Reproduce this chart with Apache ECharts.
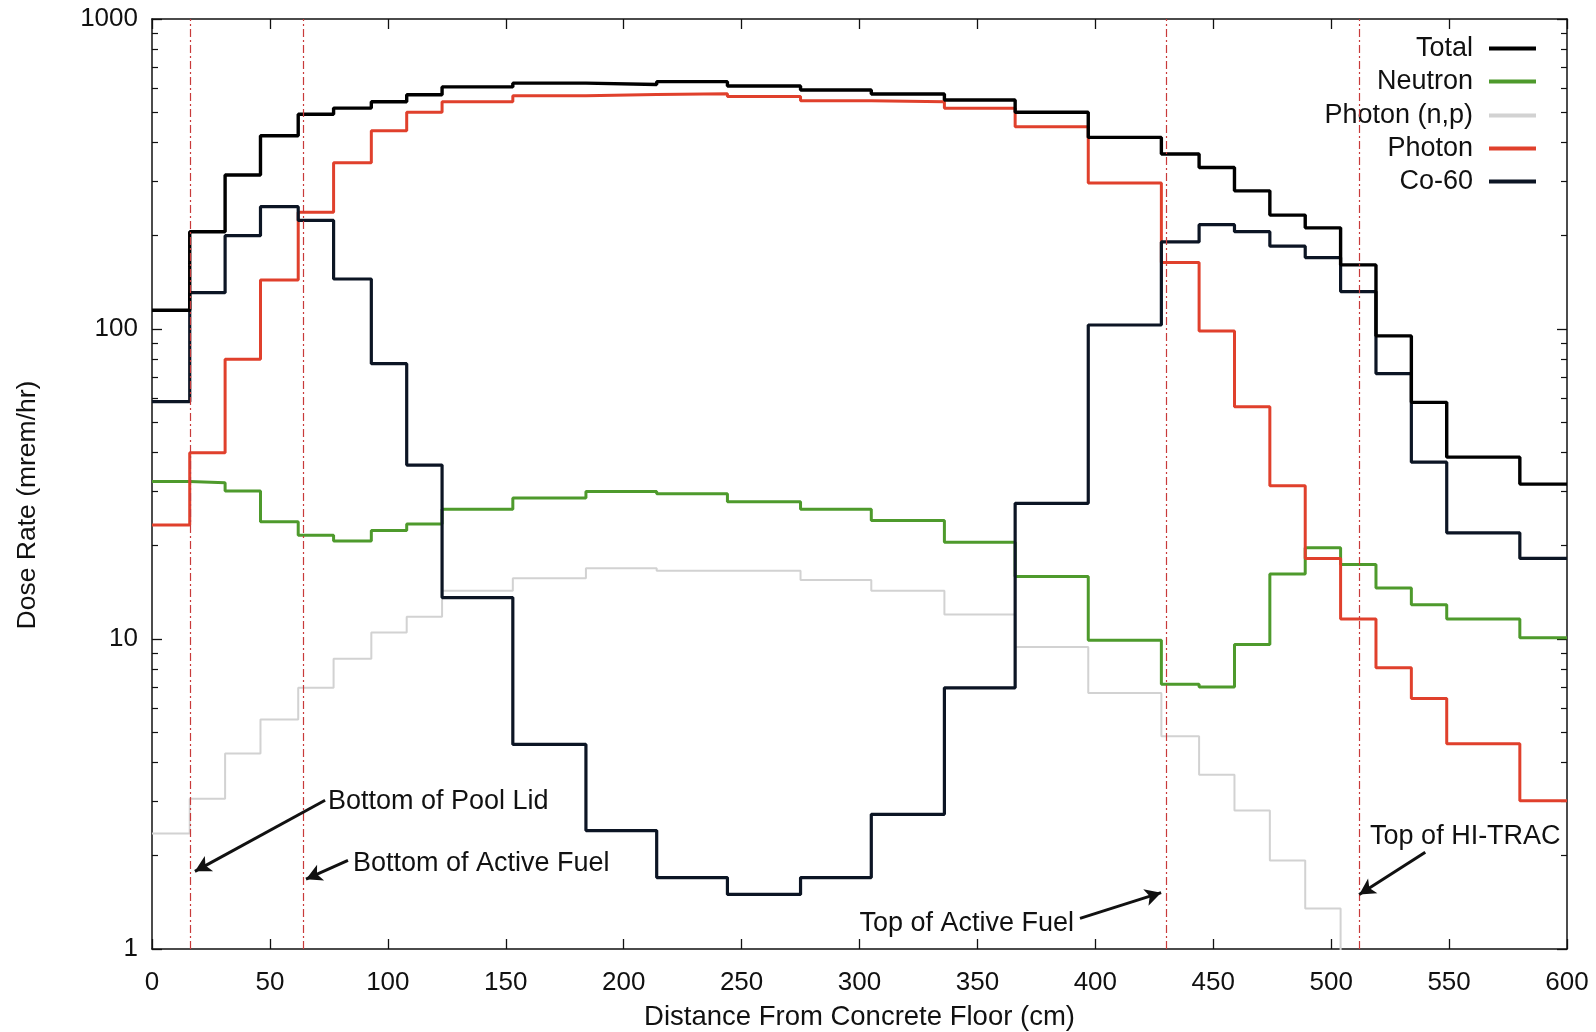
<!DOCTYPE html>
<html>
<head>
    <meta charset="utf-8">
    <title>Dose Rate vs Distance</title>
    <script type="text/javascript" src="https://cdn.jsdelivr.net/npm/echarts@6/dist/echarts.min.js"></script>
    <style>
        html, body { margin: 0; padding: 0; background: #fff; }
    </style>
</head>
<body>
<div id="main" style="width: 1596px;height:1032px;"></div>
<script type="text/javascript">
    // bin edges (cm) shared by every tally, values are per bin (mrem/hr)
    var edges = [0, 16, 31, 46, 62, 77, 93, 108, 123, 153, 184, 214, 244, 275, 305,
        336, 366, 397, 428, 444, 459, 474, 489, 504, 519, 534, 549, 580, 600];

    var total = [115, 206, 314, 420, 493, 516, 541, 570, 604, 621, 615, 628, 608, 590,
        573, 548, 500, 415, 367, 332, 279, 233, 212, 161, 95, 58, 38.6, 31.6];
    var neutron = [32.2, 31.9, 30.0, 23.9, 21.6, 20.7, 22.4, 23.5, 26.2, 28.5, 29.9, 29.4, 27.7, 26.2,
        24.1, 20.5, 15.9, 9.9, 7.14, 7.0, 9.6, 16.2, 19.7, 17.4, 14.6, 12.9, 11.6, 10.1];
    var photonNP = [2.36, 3.05, 4.27, 5.5, 6.96, 8.64, 10.5, 11.8, 14.3, 15.7, 16.9, 16.6, 16.6, 15.5,
        14.3, 12.0, 9.42, 6.7, 4.86, 3.65, 2.8, 1.93, 1.35, 0.8];
    var photon = [23.3, 39.9, 79.9, 144, 238, 344, 436, 500, 541, 565, 571, 574, 562, 545,
        541, 515, 449, 296, 164, 98.6, 56.1, 31.2, 18.2, 11.6, 8.07, 6.43, 4.59, 3.01];
    var co60 = [58.3, 131, 200, 248, 224, 145, 77.3, 36.4, 13.6, 4.57, 2.41, 1.70, 1.50, 1.70,
        2.72, 6.96, 27.4, 103, 191, 217, 206, 185, 170, 132, 71.8, 37.2, 22.0, 18.2];

    var xTicks = [0, 50, 100, 150, 200, 250, 300, 350, 400, 450, 500, 550, 600];
    var yMajor = [1, 10, 100, 1000];
    var yMinor = [2, 3, 4, 5, 6, 7, 8, 9, 20, 30, 40, 50, 60, 70, 80, 90,
        200, 300, 400, 500, 600, 700, 800, 900];

    // reference positions (cm)
    var markers = [16.4, 64, 430, 512];

    // callouts: text anchor and arrow, in data coordinates
    var notes = [
        {text: 'Bottom of Pool Lid', at: [74.6, 3.0], from: [73.4, 3.02], to: [18.2, 1.78]},
        {text: 'Bottom of Active Fuel', at: [85.2, 1.89], from: [83.1, 1.93], to: [65.3, 1.68]},
        {text: 'Top of Active Fuel', at: [300, 1.21], from: [393.5, 1.256], to: [427.9, 1.52]},
        {text: 'Top of HI-TRAC', at: [516.5, 2.31], from: [539.9, 2.05], to: [511.9, 1.50]}
    ];

    var legendNames = ['Total', 'Neutron', 'Photon (n,p)', 'Photon', 'Co-60'];
    var legendRowY = [46, 79, 113, 146, 179];

    var font = 'Liberation Sans, Arial, Helvetica, sans-serif';

    function steps(vals) {
        var pts = vals.map(function (v, i) { return [edges[i], v]; });
        pts.push([edges[vals.length], vals[vals.length - 1]]);
        return pts;
    }

    var myChart = echarts.init(document.getElementById('main'));

    var markLineData = markers.map(function (x) {
        return {xAxis: x, lineStyle: {color: '#c83a3a', type: [8, 3, 2, 3], width: 1.2}};
    });
    notes.forEach(function (n) {
        markLineData.push([
            {coord: n.from, symbol: 'none'},
            {coord: n.to, symbol: 'arrow', symbolSize: [13, 16],
                lineStyle: {color: '#111', width: 3, type: 'solid'}}
        ]);
    });

    var legends = legendNames.map(function (name, i) {
        return {
            data: [name],
            right: 60,
            top: legendRowY[i] - 11,
            orient: 'horizontal',
            align: 'right',
            padding: 0,
            icon: 'rect',
            itemWidth: 47,
            itemHeight: 4,
            selectedMode: false,
            textStyle: {fontSize: 27, color: '#111', fontFamily: font, padding: [0, 11, 0, 0]}
        };
    });

    var majorTick = {show: true, inside: true, length: 10, lineStyle: {color: '#111', width: 1.3}};
    var minorTick = {show: true, inside: true, length: 6, customValues: yMinor,
        lineStyle: {color: '#111', width: 1.2}};

    var option = {
        animation: false,
        backgroundColor: '#fff',
        textStyle: {fontFamily: font},
        legend: legends,
        grid: {left: 152, right: 29, top: 19, bottom: 83, outerBoundsMode: 'none'},
        xAxis: [{
            type: 'value', position: 'bottom', min: 0, max: 600, interval: 50,
            axisLine: {show: true, lineStyle: {color: '#111', width: 1.5}},
            axisTick: majorTick,
            splitLine: {show: false},
            axisLabel: {fontSize: 26, color: '#111', margin: 21, customValues: xTicks},
            name: 'Distance From Concrete Floor (cm)',
            nameLocation: 'middle',
            nameGap: 54,
            nameTextStyle: {fontSize: 27.5, color: '#111'}
        }, {
            type: 'value', position: 'top', min: 0, max: 600, interval: 50,
            axisLine: {show: true, lineStyle: {color: '#111', width: 1.5}},
            axisTick: majorTick,
            splitLine: {show: false},
            axisLabel: {show: false}
        }],
        yAxis: [{
            type: 'log', logBase: 10, position: 'left', min: 1, max: 1000,
            axisLine: {show: true, lineStyle: {color: '#111', width: 1.5}},
            axisTick: {show: true, inside: true, length: 10, customValues: yMajor,
                lineStyle: {color: '#111', width: 1.3}},
            splitLine: {show: false},
            axisLabel: {fontSize: 26, color: '#111', margin: 14, customValues: yMajor,
                formatter: function (v) { return String(Math.round(v)); }},
            name: 'Dose Rate (mrem/hr)',
            nameLocation: 'middle',
            nameGap: 111,
            nameTextStyle: {fontSize: 26.5, color: '#111', padding: [0, 42, 0, 0]}
        }, {
            type: 'log', logBase: 10, position: 'left', min: 1, max: 1000,
            axisLine: {show: false}, axisTick: minorTick,
            splitLine: {show: false}, axisLabel: {show: false}
        }, {
            type: 'log', logBase: 10, position: 'right', min: 1, max: 1000,
            axisLine: {show: true, lineStyle: {color: '#111', width: 1.5}},
            axisTick: {show: true, inside: true, length: 10, customValues: yMajor,
                lineStyle: {color: '#111', width: 1.3}},
            splitLine: {show: false}, axisLabel: {show: false}
        }, {
            type: 'log', logBase: 10, position: 'right', min: 1, max: 1000,
            axisLine: {show: false}, axisTick: minorTick,
            splitLine: {show: false}, axisLabel: {show: false}
        }],
        series: [{
            name: 'Photon (n,p)', type: 'line', step: 'end', symbol: 'none', clip: true,
            data: steps(photonNP),
            itemStyle: {color: '#d2d2d2'},
            lineStyle: {color: '#d2d2d2', width: 2}
        }, {
            name: 'Neutron', type: 'line', step: 'end', symbol: 'none', clip: true,
            data: steps(neutron),
            itemStyle: {color: '#4e9a2c'},
            lineStyle: {color: '#4e9a2c', width: 3}
        }, {
            name: 'Photon', type: 'line', step: 'end', symbol: 'none', clip: true,
            data: steps(photon),
            itemStyle: {color: '#e0402c'},
            lineStyle: {color: '#e0402c', width: 3}
        }, {
            name: 'Co-60', type: 'line', step: 'end', symbol: 'none', clip: true,
            data: steps(co60),
            itemStyle: {color: '#0c1524'},
            lineStyle: {color: '#0c1524', width: 3.2}
        }, {
            name: 'Total', type: 'line', step: 'end', symbol: 'none', clip: true,
            data: steps(total),
            itemStyle: {color: '#000'},
            lineStyle: {color: '#000', width: 3.4},
            markLine: {
                silent: true,
                symbol: ['none', 'none'],
                label: {show: false},
                emphasis: {disabled: true},
                data: markLineData
            },
            markPoint: {
                silent: true,
                symbol: 'circle',
                symbolSize: 0,
                data: notes.map(function (n) {
                    return {
                        coord: n.at,
                        label: {show: true, position: 'right', distance: 0, formatter: n.text,
                            fontSize: 27, color: '#111', fontFamily: font}
                    };
                })
            }
        }]
    };

    myChart.setOption(option);
</script>
</body>
</html>
